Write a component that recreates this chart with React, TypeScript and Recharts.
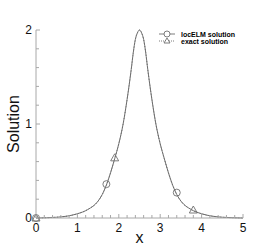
import {
  ComposedChart,
  Line,
  Scatter,
  XAxis,
  YAxis,
  Legend,
} from "recharts";

// curve
const xs = [
  0, 0.25, 0.5, 0.75, 1.0, 1.25, 1.5, 1.6, 1.7, 1.8, 1.9, 2.0, 2.1, 2.2, 2.3, 2.35, 2.4, 2.45,
  2.5, 2.55, 2.6, 2.65, 2.7, 2.8, 2.9, 3.0, 3.1, 3.2, 3.3, 3.4, 3.5, 3.75, 4.0, 4.25, 4.5, 4.75,
  5.0,
];
const locElmValues = [
  0, 0.003, 0.008, 0.02, 0.045, 0.09, 0.18, 0.25, 0.35, 0.48, 0.63, 0.79, 0.99, 1.26, 1.58, 1.76,
  1.9, 1.97, 2.0, 1.97, 1.9, 1.76, 1.58, 1.26, 0.99, 0.79, 0.63, 0.48, 0.35, 0.25, 0.18, 0.09,
  0.045, 0.02, 0.008, 0.003, 0,
];
const exactValues = [
  0, 0.003, 0.008, 0.02, 0.045, 0.09, 0.18, 0.25, 0.35, 0.48, 0.63, 0.79, 0.99, 1.26, 1.58, 1.76,
  1.9, 1.97, 2.0, 1.97, 1.9, 1.76, 1.58, 1.26, 0.99, 0.79, 0.63, 0.48, 0.35, 0.25, 0.18, 0.09,
  0.045, 0.02, 0.008, 0.003, 0,
];

// marker positions
const locElmMarkX = [0, 1.7, 3.4];
const locElmMarkY = [0, 0.36, 0.27];
const exactMarkX = [0, 1.9, 3.8];
const exactMarkY = [0, 0.64, 0.085];

const xTicks = [
  0, 0.2, 0.4, 0.6, 0.8, 1, 1.2, 1.4, 1.6, 1.8, 2, 2.2, 2.4, 2.6, 2.8, 3, 3.2, 3.4, 3.6, 3.8, 4,
  4.2, 4.4, 4.6, 4.8, 5,
];
const yTicks = [0, 0.2, 0.4, 0.6, 0.8, 1, 1.2, 1.4, 1.6, 1.8, 2];

const locElmLine = xs.map((x, i) => ({ x, y: locElmValues[i] }));
const exactLine = xs.map((x, i) => ({ x, y: exactValues[i] }));
const locElmMarks = locElmMarkX.map((x, i) => ({ x, y: locElmMarkY[i] }));
const exactMarks = exactMarkX.map((x, i) => ({ x, y: exactMarkY[i] }));

const CURVE = "#6e6e6e";
const AXIS = "#a8a8a8";
const FONT = "Liberation Sans, Arial, sans-serif";

function YTick(props: any) {
  const { x, y, payload } = props;
  const major = Number.isInteger(payload.value);
  return (
    <g>
      <line x1={x} x2={x + (major ? 4 : 3)} y1={y} y2={y} stroke={AXIS} />
      {major && (
        <text x={x - 4} y={y + 4} textAnchor="end" fontSize={12} fill="#111" fontFamily={FONT}>
          {payload.value}
        </text>
      )}
    </g>
  );
}

function XTick(props: any) {
  const { x, y, payload } = props;
  const major = Number.isInteger(payload.value);
  return (
    <g>
      <line x1={x} x2={x} y1={y} y2={y - (major ? 4 : 3)} stroke={AXIS} />
      {major && (
        <text x={x} y={y + 14} textAnchor="middle" fontSize={12} fill="#111" fontFamily={FONT}>
          {payload.value}
        </text>
      )}
    </g>
  );
}

function CircleMark(props: any) {
  const { cx, cy } = props;
  return <circle cx={cx} cy={cy} r={3.5} fill="none" stroke={CURVE} strokeWidth={0.9} />;
}

function TriangleMark(props: any) {
  const { cx, cy } = props;
  return (
    <path
      d={`M${cx},${cy - 4} L${cx + 4},${cy + 3} L${cx - 4},${cy + 3} Z`}
      fill="none"
      stroke={CURVE}
      strokeWidth={0.9}
    />
  );
}

function LegendBox() {
  return (
    <svg width={90} height={18} style={{ display: "block" }}>
      <line x1={1} x2={17} y1={5} y2={5} stroke={CURVE} strokeWidth={0.9} />
      <circle cx={9} cy={5} r={3} fill="#fff" stroke={CURVE} strokeWidth={0.9} />
      <text x={23} y={7.5} fontSize={7} fontWeight="bold" fill="#000" fontFamily={FONT}>
        locELM solution
      </text>
      <line x1={1} x2={17} y1={12} y2={12} stroke={CURVE} strokeWidth={0.9} strokeDasharray="1 1" />
      <path d="M9,9 L12,14 L6,14 Z" fill="#fff" stroke={CURVE} strokeWidth={0.9} />
      <text x={23} y={14.5} fontSize={7} fontWeight="bold" fill="#000" fontFamily={FONT}>
        exact solution
      </text>
    </svg>
  );
}

export default function App() {
  return (
    <div style={{ position: "absolute", left: 0, top: 0, width: 277, height: 246, background: "#fff" }}>
      <ComposedChart width={277} height={246} margin={{ top: 30, right: 34, bottom: 0, left: 0 }}>
        <XAxis
          dataKey="x"
          type="number"
          domain={[0, 5]}
          ticks={xTicks}
          interval={0}
          height={28}
          stroke={AXIS}
          tickLine={false}
          tickSize={0}
          tickMargin={0}
          tick={<XTick />}
          label={{
            value: "x",
            position: "insideBottom",
            offset: 3,
            fontSize: 16,
            fill: "#111",
            fontFamily: FONT,
          }}
        />
        <YAxis
          dataKey="y"
          type="number"
          domain={[0, 2]}
          ticks={yTicks}
          interval={0}
          width={36}
          stroke={AXIS}
          tickLine={false}
          tickSize={0}
          tickMargin={0}
          tick={<YTick />}
          label={{
            value: "Solution",
            angle: -90,
            position: "center",
            dx: -5,
            fontSize: 16,
            fill: "#111",
            fontFamily: FONT,
          }}
        />
        <Legend
          layout="horizontal"
          verticalAlign="middle"
          align="center"
          content={() => <LegendBox />}
          wrapperStyle={{ left: 158, top: 29, width: 90 }}
        />
        <Line
          data={locElmLine}
          dataKey="y"
          name="locELM solution"
          type="monotone"
          stroke={CURVE}
          strokeWidth={1}
          dot={false}
          isAnimationActive={false}
        />
        <Line
          data={exactLine}
          dataKey="y"
          name="exact solution"
          type="monotone"
          stroke={CURVE}
          strokeWidth={1}
          strokeDasharray="1 2"
          dot={false}
          isAnimationActive={false}
        />
        <Scatter data={locElmMarks} dataKey="y" shape={<CircleMark />} isAnimationActive={false} />
        <Scatter data={exactMarks} dataKey="y" shape={<TriangleMark />} isAnimationActive={false} />
      </ComposedChart>
    </div>
  );
}
